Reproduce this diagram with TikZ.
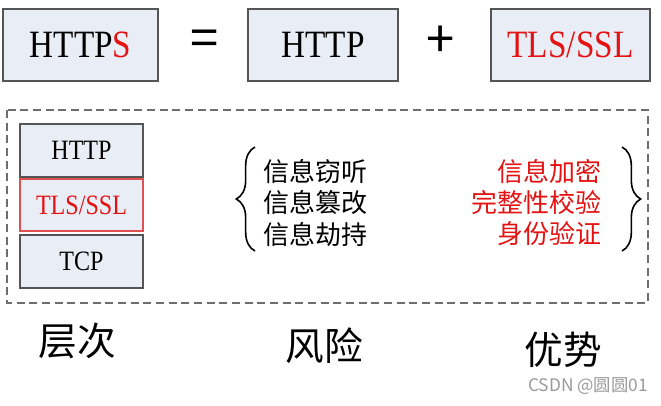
\documentclass[tikz,border=0pt]{standalone}
\usepackage{fontspec}
\usepackage{tikz}
\usetikzlibrary{positioning,calc}
\usetikzlibrary{decorations.pathreplacing}
\setmainfont[FakeStretch=0.86]{Liberation Serif}
\newfontfamily\cjk{Noto Sans CJK SC}
\definecolor{BoxFill}{RGB}{233,237,245}
\definecolor{BoxLine}{RGB}{85,85,85}
\definecolor{HRed}{RGB}{228,18,18}
\definecolor{LayerRed}{RGB}{225,80,80}
\definecolor{DashGray}{RGB}{110,110,110}
\tikzset{
  bigbox/.style={draw=BoxLine,fill=BoxFill,line width=1.1pt,inner sep=0pt,
    minimum height=54pt,font=\fontsize{29pt}{34pt}\selectfont},
  layer/.style={draw=BoxLine,fill=BoxFill,line width=1pt,inner sep=0pt,
    minimum width=92.25pt,font=\fontsize{21pt}{25pt}\selectfont},
  op/.style={font=\cjk\fontsize{38pt}{40pt}\selectfont},
  items/.style={inner sep=0pt,font=\cjk\fontsize{19.5pt}{23.3pt}\selectfont},
  caption/.style={inner sep=0pt,font=\cjk\fontsize{29pt}{34pt}\selectfont},
  curly/.style={decorate,decoration={brace,amplitude=14},line width=1.2pt},
}

\begin{document}
\begin{tikzpicture}[x=0.75pt,y=-0.75pt]
\useasboundingbox (0,0) rectangle (661,405);
% top row
\node[bigbox,minimum width=116.25pt] (https) at (80.5,45) {HTTP\textcolor{HRed}{S}};
\node[op] (eq) at (205,43) {=};
\node[bigbox,minimum width=112.5pt] (http) at (323,45) {HTTP};
\node[op] (plus) at (441,42) {+};
\node[bigbox,minimum width=119.25pt,text=HRed] (tls) at (570.5,45) {TLS/SSL};
% frame
\draw[DashGray,line width=1.2pt,dash pattern=on 6pt off 3.5pt] (7,110) rectangle (648,303);
% layers
\node[layer,minimum height=39.75pt] (lhttp) at (81.5,150.5) {HTTP};
\node[layer,draw=LayerRed,text=HRed,minimum height=39pt] (ltls) at (81.5,205) {TLS/SSL};
\node[layer,minimum height=39.75pt] (ltcp) at (81.5,261.5) {TCP};
% risks and advantages
\node[items,anchor=west,align=left] (risk) at (263,203) {信息窃听\\信息篡改\\信息劫持};
\node[items,anchor=east,align=right,text=HRed] (adv) at (602,203) {信息加密\\完整性校验\\身份验证};
\coordinate (lb1) at ($(risk.west)+(-8,48)$);
\coordinate (lb2) at ($(risk.west)+(-8,-56)$);
\coordinate (rb1) at ($(adv.east)+(20,-56)$);
\coordinate (rb2) at ($(adv.east)+(20,48)$);
\draw[curly] (lb1) -- (lb2);
\draw[curly] (rb1) -- (rb2);
% captions
\node[caption] (cap1) at (77,341) {层次};
\node[caption] (cap2) at (324,346) {风险};
\node[caption] (cap3) at (563,350) {优势};
\node[anchor=east,inner sep=0pt,text=black!40,font=\cjk\fontsize{13pt}{15pt}\selectfont]
  (mark) at (648,386) {CSDN @圆圆01};
\end{tikzpicture}
\end{document}
